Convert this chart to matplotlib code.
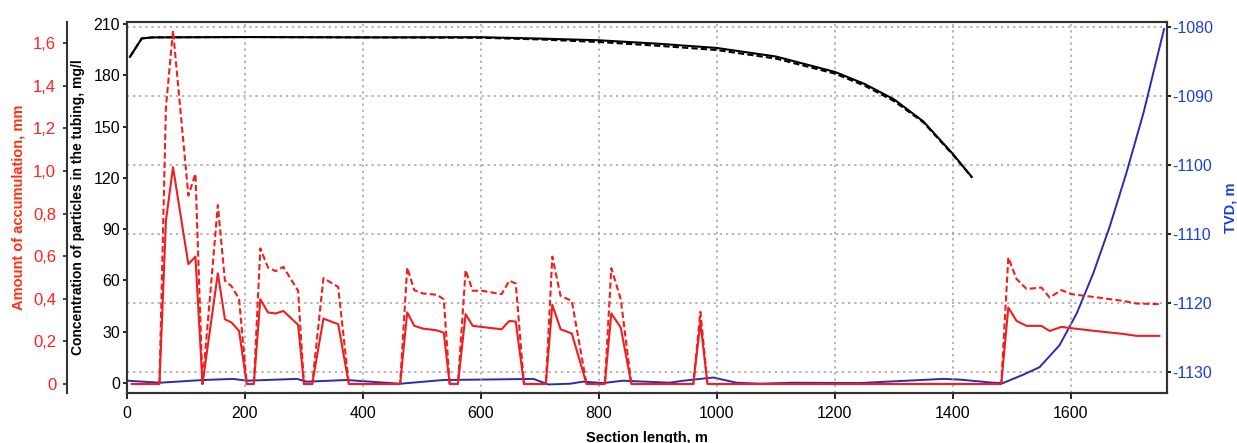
import numpy as np
import matplotlib.pyplot as plt
from matplotlib.ticker import FuncFormatter

plt.rcParams['font.family'] = ['Liberation Sans', 'DejaVu Sans']
plt.rcParams['axes.unicode_minus'] = False

# accumulation (mm) along the section, two cases
dist_acc = [8, 55, 66, 78, 104, 116, 128, 154, 166, 177, 190, 203, 215, 226, 239, 252, 265, 290, 300,
            314, 333, 358, 376, 463, 475, 487, 502, 525, 537, 547, 561, 574, 586, 601, 635, 648, 659,
            673, 710, 721, 735, 754, 779, 810, 821, 837, 855, 960, 972, 984, 1482, 1494, 1508, 1525,
            1550, 1564, 1584, 1601, 1638, 1689, 1711, 1750]
acc_dashed = [0, 0, 1.30, 1.66, 0.885, 0.987, 0, 0.84, 0.485, 0.46, 0.40, 0, 0, 0.637, 0.547, 0.53, 0.55,
              0.438, 0, 0, 0.497, 0.456, 0, 0, 0.547, 0.44, 0.425, 0.419, 0.398, 0, 0, 0.535, 0.438,
              0.438, 0.422, 0.485, 0.472, 0, 0, 0.598, 0.414, 0.39, 0, 0, 0.544, 0.398, 0, 0, 0.339, 0,
              0, 0.594, 0.493, 0.446, 0.453, 0.406, 0.441, 0.422, 0.409, 0.39, 0.378, 0.375]
acc_solid = [0, 0, 0.767, 1.018, 0.563, 0.598, 0, 0.52, 0.304, 0.289, 0.249, 0, 0, 0.398, 0.336, 0.331,
             0.343, 0.278, 0, 0, 0.307, 0.281, 0, 0, 0.336, 0.273, 0.26, 0.252, 0.241, 0, 0, 0.328,
             0.273, 0.268, 0.257, 0.296, 0.293, 0, 0, 0.372, 0.257, 0.237, 0, 0, 0.331, 0.265, 0, 0,
             0.29, 0, 0, 0.359, 0.296, 0.273, 0.273, 0.249, 0.268, 0.262, 0.25, 0.235, 0.226, 0.226]

# particle concentration in the tubing (mg/l)
dist_conc = [5, 25, 44, 200, 400, 600, 700, 800, 900, 1000, 1100, 1200, 1250, 1300, 1350, 1400, 1432]
conc_solid = [190.8, 201.6, 202.2, 202.4, 202.2, 202.3, 201.5, 200.5, 198.5, 196.0, 191.0, 182.0,
              175.0, 166.0, 153.0, 134.0, 120.5]
conc_dashed = [190.8, 201.6, 202.2, 202.4, 202.2, 202.0, 201.0, 199.5, 197.3, 194.8, 189.8, 181.0,
               174.0, 165.0, 152.5, 133.5, 120.5]

# well trajectory, true vertical depth (m)
dist_tvd = [0, 56, 129, 180, 203, 288, 305, 372, 429, 463, 536, 598, 689, 714, 751, 773, 807, 841, 920,
            943, 994, 1033, 1073, 1129, 1242, 1288, 1384, 1412, 1468, 1485, 1519, 1547, 1581, 1610,
            1638, 1666, 1694, 1723, 1758]
tvd = [-1131.26, -1131.55, -1131.16, -1131.0, -1131.26, -1131.0, -1131.4, -1131.16, -1131.5, -1131.7,
       -1131.16, -1131.1, -1131.0, -1131.8, -1131.7, -1131.4, -1131.6, -1131.26, -1131.55, -1131.26,
       -1130.8, -1131.55, -1131.7, -1131.55, -1131.6, -1131.4, -1131.0, -1131.1, -1131.55, -1131.6,
       -1130.4, -1129.3, -1126.1, -1121.5, -1115.7, -1108.9, -1101.2, -1092.5, -1080.3]

red = '#f01e1e'
blue = '#2b2bb0'
grid_kw = dict(color='#a0a0a0', linestyle=(0, (1.5, 2.5)), linewidth=1.1)

fig = plt.figure(figsize=(12.37, 4.43), dpi=100)
ax = fig.add_axes([127 / 1237, 1 - 392.5 / 443, 1040 / 1237, 370.5 / 443])
ax_tvd = ax.twinx()
ax_red = ax.twinx()

ax_tvd.set_zorder(1)
ax.set_zorder(2)
ax_red.set_zorder(3)
ax.patch.set_visible(False)
ax_red.patch.set_visible(False)
ax_tvd.patch.set_facecolor('white')

# TVD (right axis) + horizontal grid
ax_tvd.plot(dist_tvd, tvd, color=blue, lw=1.4)
ax_tvd.set_ylim(-1132.97, -1079.28)
ax_tvd.set_yticks([-1080, -1090, -1100, -1110, -1120, -1130])
ax_tvd.yaxis.grid(True, **grid_kw)
ax_tvd.tick_params(axis='y', colors='#222222', labelcolor='#1f3fd0', labelsize=11.5,
                   length=3, width=1.5, pad=1)
ax_tvd.set_ylabel('TVD, m', color='#1f3fd0', fontsize=10.5, fontweight='bold')
ax_tvd.yaxis.set_label_coords(1.0545, 0.5)

# concentration (main left axis)
ax.plot(dist_conc, conc_dashed, color='black', lw=1.5, linestyle=(0, (3, 1.5)))
ax.plot(dist_conc, conc_solid, color='black', lw=1.5)
ax.set_xlim(0, 1763)
ax.set_ylim(-5.6, 211.2)
ax.set_yticks(np.arange(0, 211, 30))
ax.set_xticks(np.arange(0, 1601, 200))
ax.xaxis.grid(True, **grid_kw)
ax.tick_params(axis='y', labelsize=11.5, length=3, width=1.2, pad=2)
ax.tick_params(axis='x', labelsize=11.5, length=4, width=1.2, pad=6)
ax.set_ylabel('Concentration of particles in the tubing, mg/l', fontsize=10, fontweight='bold')
ax.yaxis.set_label_coords(-0.0404, 0.5)
ax.set_xlabel('Section length, m', fontsize=10.5, fontweight='bold')
ax.xaxis.set_label_coords(0.5, -0.105)

# accumulation (outer left axis)
ax_red.plot(dist_acc, acc_dashed, color=red, lw=1.5, linestyle=(0, (3, 1.5)))
ax_red.plot(dist_acc, acc_solid, color=red, lw=1.5)
ax_red.set_ylim(-0.04, 1.70)
ax_red.set_yticks(np.arange(0, 1.61, 0.2))
ax_red.yaxis.set_major_formatter(FuncFormatter(
    lambda v, p: '0' if abs(v) < 1e-9 else f'{v:.1f}'.replace('.', ',')))
ax_red.yaxis.set_ticks_position('left')
ax_red.yaxis.set_label_position('left')
ax_red.spines['left'].set_position(('outward', 43))
for s in ['right', 'top', 'bottom']:
    ax_red.spines[s].set_visible(False)
ax_red.tick_params(axis='y', colors='#222222', labelcolor='#ff2020', labelsize=12,
                   length=3, width=1.2, pad=5)
ax_red.set_ylabel('Amount of accumulation, mm', color='#ff3010', fontsize=10.5, fontweight='bold')
ax_red.yaxis.set_label_coords(-0.098, 0.5)

for a in (ax, ax_tvd, ax_red):
    for s in a.spines.values():
        s.set_color('#333333')
        s.set_linewidth(1.5)

plt.savefig('out.png', dpi=100)
